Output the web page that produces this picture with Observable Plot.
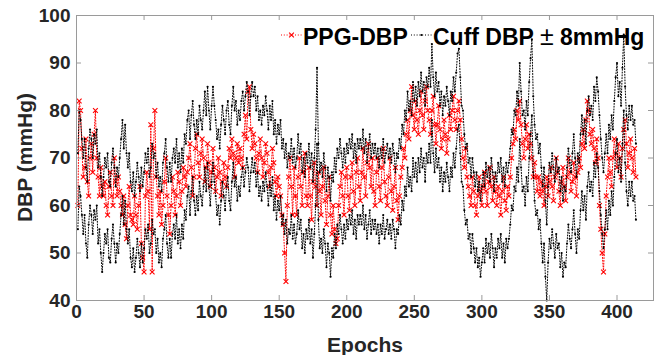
<!DOCTYPE html>
<html><head><meta charset="utf-8">
<script src="https://cdn.jsdelivr.net/npm/d3@7"></script>
<script src="https://cdn.jsdelivr.net/npm/@observablehq/plot@0.6"></script>
<style>body{margin:0;background:#fff} svg{display:block}</style>
</head><body><div id="chart"></div>
<script>
// Cuff DBP (mmHg), epochs 1..414 (band drawn at ±8 mmHg)
const cuffDBP = [
63,72,70,66,62,66,60,57,64,68,
66,62,67,65,68,60,63,58,54,58,
62,60,63,57,56,61,64,60,56,60,
58,62,66,70,64,69,63,60,63,57,
55,59,54,57,61,58,55,60,56,59,
63,61,64,58,60,65,62,63,58,61,
56,58,55,61,63,66,60,57,61,57,
62,64,61,66,60,63,59,64,61,67,
65,70,72,66,71,74,69,66,70,67,
73,70,68,72,76,71,77,72,68,73,
77,73,70,66,68,64,69,73,70,67,
72,74,69,67,73,77,72,74,69,72,
70,74,76,72,75,78,76,71,75,78,
75,77,72,75,70,72,69,73,71,75,
72,68,73,70,74,67,70,65,69,67,
70,64,66,62,65,60,63,62,66,61,
64,60,62,67,63,65,59,62,58,63,
61,65,60,63,57,62,68,81,65,59,
61,58,63,60,55,60,58,53,59,57,
62,59,64,62,66,63,60,64,61,65,
63,66,64,67,62,65,61,66,64,66,
64,68,63,66,61,64,67,62,65,63,
65,62,64,60,64,62,66,61,63,65,
62,64,61,65,63,59,63,62,66,64,
69,67,72,70,76,72,74,71,78,74,
77,73,78,75,80,76,78,73,79,77,
81,77,86,79,75,80,76,78,73,76,
71,75,73,77,74,71,76,74,79,76,
80,84,85,79,73,72,67,64,65,61,
62,58,62,59,56,59,55,57,53,56,
59,56,61,58,60,57,62,59,55,59,
57,61,59,62,57,60,56,61,59,61,
64,68,67,72,71,76,73,82,76,71,
72,68,74,71,78,83,87,75,69,66,
67,63,65,60,56,60,53,48,56,61,
59,63,60,57,62,59,60,55,58,53,
56,55,60,64,61,59,63,67,62,58,
63,61,67,71,67,70,65,72,75,71,
73,70,77,74,79,76,71,66,62,59,
63,67,63,69,66,71,68,74,79,82,
75,78,73,81,88,77,71,68,73,70,
73,69,70,65
];
// PPG-estimated DBP (mmHg), epochs 1..414
const ppgDBP = [
60,82,80,72,66,68,74,65,62,70,
73,67,75,80,70,66,62,68,64,62,
65,60,58,64,67,62,60,70,65,62,
66,63,60,58,62,56,53,60,64,58,
57,56,62,58,55,60,64,52,49,46,
62,67,63,55,77,46,72,80,66,62,
58,63,56,60,65,70,62,58,54,60,
66,63,58,62,67,65,60,63,68,66,
64,67,70,73,68,62,66,72,75,69,
66,71,74,70,65,68,73,69,64,67,
72,68,63,66,70,67,62,65,69,66,
64,68,72,70,74,71,66,70,73,69,
72,70,68,75,79,74,84,85,76,72,
75,73,70,67,71,74,70,66,69,73,
71,67,64,68,72,69,65,62,66,64,
62,58,56,50,44,60,66,70,64,58,
68,62,58,66,70,64,60,67,71,62,
60,68,62,57,65,69,64,60,67,63,
58,64,68,61,56,62,66,58,54,60,
55,52,53,60,64,67,62,58,66,68,
62,59,66,69,63,60,67,70,64,61,
67,72,66,62,69,73,68,64,70,63,
60,67,70,64,61,68,72,65,62,60,
66,70,63,59,64,68,61,57,62,66,
68,72,70,75,78,74,80,85,79,76,
82,78,75,80,84,79,76,82,85,80,
78,75,80,83,77,73,77,81,76,72,
74,78,75,71,74,79,76,80,83,78,
76,80,82,78,74,70,68,72,66,64,
62,60,66,63,60,58,62,66,63,60,
64,67,63,60,65,68,64,61,66,63,
60,64,62,58,63,66,61,59,64,62,
66,70,73,76,74,80,78,82,77,73,
70,74,77,72,75,73,70,66,69,66,
63,66,62,65,63,60,64,66,62,65,
68,64,61,66,70,67,63,60,65,68,
64,61,66,70,67,63,65,69,66,62,
67,70,68,73,76,72,78,82,80,75,
73,76,72,69,74,70,60,55,50,46,
54,62,66,70,67,64,70,74,71,68,
73,70,66,72,76,78,73,68,71,74,
70,67,72,66
];
const cuffBand = 8;
const xTicks = [0, 50, 100, 150, 200, 250, 300, 350, 400];
const yTicks = [40, 50, 60, 70, 80, 90, 100];
const xLabel = "Epochs";
const yLabel = "DBP (mmHg)";
const legendPPG = "PPG-DBP";
const legendCuff = ["Cuff DBP ", "±", " 8mmHg"];

const ppg = ppgDBP.map((v, i) => ({epoch: i + 1, dbp: v}));
const upper = cuffDBP.map((v, i) => ({epoch: i + 1, dbp: v + cuffBand}));
const lower = cuffDBP.map((v, i) => ({epoch: i + 1, dbp: v - cuffBand}));

const font = "'Liberation Sans', Arial, Helvetica, sans-serif";
const axisGray = "#9a9a9a";
const textCol = "#262626";
const dash = "1,1.8";

const plot = Plot.plot({
  width: 654, height: 355,
  marginLeft: 76, marginRight: 1, marginTop: 15, marginBottom: 55,
  style: {fontFamily: font, fontWeight: "bold", background: "#fff", overflow: "visible"},
  x: {domain: [0, 427], ticks: xTicks},
  y: {domain: [40, 100], ticks: yTicks},
  marks: [
    Plot.line(ppg, {x: "epoch", y: "dbp", stroke: "#ff0000", strokeWidth: 1, strokeDasharray: dash}),
    Plot.dot(ppg, {x: "epoch", y: "dbp", symbol: "times", r: 2.3, stroke: "#ff0000", strokeWidth: 1.1}),
    Plot.line(upper, {x: "epoch", y: "dbp", stroke: "#000", strokeWidth: 1, strokeDasharray: dash}),
    Plot.dot(upper, {x: "epoch", y: "dbp", r: 1.1, fill: "#000", stroke: "none"}),
    Plot.line(lower, {x: "epoch", y: "dbp", stroke: "#000", strokeWidth: 1, strokeDasharray: dash}),
    Plot.dot(lower, {x: "epoch", y: "dbp", r: 1.1, fill: "#000", stroke: "none"}),
    Plot.frame({stroke: axisGray}),
    Plot.tickX(xTicks, {x: d => d, stroke: axisGray, insetTop: 280}),
    Plot.tickX(xTicks, {x: d => d, stroke: axisGray, insetBottom: 280}),
    Plot.tickY(yTicks, {y: d => d, stroke: axisGray, insetRight: 572}),
    Plot.tickY(yTicks, {y: d => d, stroke: axisGray, insetLeft: 572}),
    Plot.axisX({ticks: xTicks, tickSize: 0, tickPadding: 4, fontSize: 19, fill: textCol, label: null}),
    Plot.axisY({ticks: yTicks, tickSize: 0, tickPadding: 6, fontSize: 19, fill: textCol, label: null})
  ]
});
document.getElementById("chart").appendChild(plot);

const svg = d3.select(plot);
// axis titles
svg.append("text").attr("x", 365).attr("y", 352).attr("text-anchor", "middle")
  .attr("font-size", 21).attr("font-weight", "bold").attr("fill", textCol).text(xLabel);
svg.append("text").attr("transform", "translate(32,157.5) rotate(-90)").attr("text-anchor", "middle")
  .attr("font-size", 21).attr("font-weight", "bold").attr("fill", textCol).text(yLabel);

// legend
const lg = svg.append("g").attr("font-family", font).attr("text-anchor", "start");
const ly = 35;
lg.append("line").attr("x1", 281).attr("x2", 302).attr("y1", ly).attr("y2", ly)
  .attr("stroke", "#ff0000").attr("stroke-dasharray", dash);
lg.append("path").attr("d", d3.symbol(d3.symbolTimes, Math.PI * 2.3 * 2.3)())
  .attr("transform", `translate(291.5,${ly})`).attr("stroke", "#ff0000").attr("stroke-width", 1.1).attr("fill", "none");
lg.append("text").attr("x", 303).attr("y", 45).attr("font-size", 23).attr("font-weight", "bold")
  .attr("text-anchor", "start").attr("fill", "#000").text(legendPPG);
lg.append("line").attr("x1", 411).attr("x2", 432).attr("y1", ly).attr("y2", ly)
  .attr("stroke", "#000").attr("stroke-dasharray", dash);
lg.append("circle").attr("cx", 421.5).attr("cy", ly).attr("r", 1.1).attr("fill", "#000");
const t2 = lg.append("text").attr("x", 433).attr("y", 45).attr("font-size", 23).attr("font-weight", "bold")
  .attr("text-anchor", "start").attr("fill", "#000");
t2.append("tspan").text(legendCuff[0]);
t2.append("tspan").attr("font-weight", "normal").attr("font-size", 25).text(legendCuff[1]);
t2.append("tspan").text(legendCuff[2]);
</script>
</body></html>
